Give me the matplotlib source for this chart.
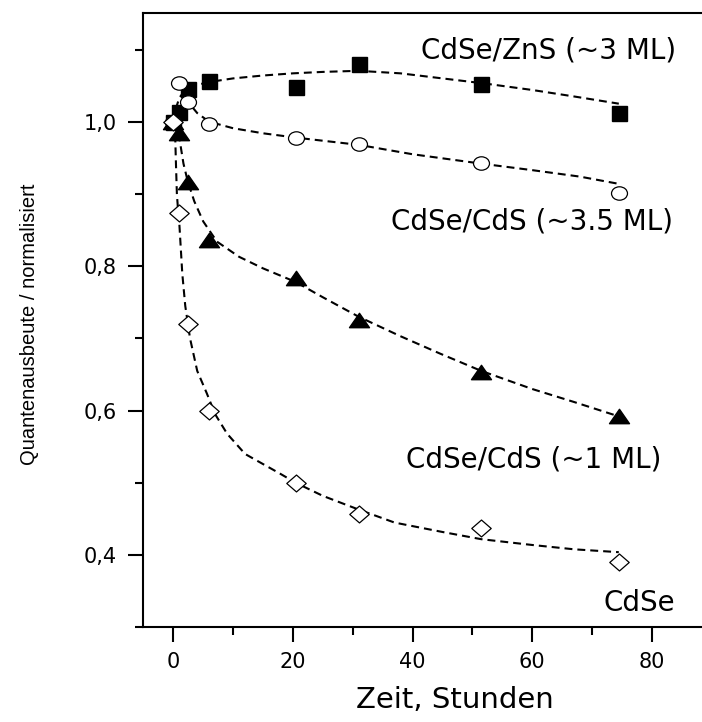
import matplotlib
matplotlib.use("Agg")
import matplotlib.pyplot as plt
from matplotlib.path import Path
from matplotlib.ticker import MultipleLocator, FuncFormatter
import numpy as np

plt.rcParams['font.family'] = ['Liberation Sans', 'DejaVu Sans']
WIDE = 'DejaVu Sans'

# ---- data ----
time_h = [0, 1, 2.5, 6, 20.5, 31, 51.5, 74.5]
qy_zns = [1.0, 1.014, 1.046, 1.057, 1.048, 1.080, 1.052, 1.012]
qy_cds35 = [1.0, 1.053, 1.028, 0.997, 0.978, 0.969, 0.943, 0.902]
qy_cds1 = [1.0, 0.985, 0.917, 0.836, 0.783, 0.726, 0.653, 0.593]
qy_cdse = [1.0, 0.873, 0.720, 0.600, 0.500, 0.457, 0.438, 0.390]

# dashed fit curves
fit_zns_t = [0, 0.5, 1, 2, 4, 6, 10, 15, 20, 25, 31, 38, 45, 52, 60, 67, 74.5]
fit_zns_y = [1.0, 1.02, 1.033, 1.044, 1.051, 1.055, 1.060, 1.064, 1.067, 1.069,
             1.0705, 1.067, 1.060, 1.053, 1.044, 1.035, 1.025]
fit_cds35_t = [1, 2.4, 4, 6, 10, 15, 20.5, 31, 40, 51.5, 60, 68, 74.5]
fit_cds35_y = [1.05, 1.028, 1.012, 1.0, 0.991, 0.984, 0.978, 0.968, 0.955,
               0.942, 0.933, 0.924, 0.914]
fit_cds1_t = [0, 0.5, 1, 1.7, 2.4, 3.5, 5, 7.3, 11, 15, 20.5, 25, 31, 38, 44.6,
              51.5, 60, 67, 74.5]
fit_cds1_y = [1.0, 0.992, 0.978, 0.942, 0.918, 0.89, 0.862, 0.834, 0.813, 0.797,
              0.778, 0.757, 0.730, 0.703, 0.679, 0.655, 0.63, 0.612, 0.592]
fit_cdse_t = [0, 0.3, 0.45, 0.6, 0.8, 1.0, 1.5, 2, 2.8, 4, 5.6, 7, 9, 12, 17.8,
              20.5, 25, 31, 37, 45, 51.5, 60, 67, 74.5]
fit_cdse_y = [1.0, 0.985, 0.94, 0.9, 0.877, 0.86, 0.79, 0.745, 0.70, 0.655,
              0.624, 0.595, 0.568, 0.54, 0.513, 0.50, 0.482, 0.463, 0.445,
              0.432, 0.422, 0.414, 0.408, 0.404]

labels = ["CdSe/ZnS (~3 ML)", "CdSe/CdS (~3.5 ML)", "CdSe/CdS (~1 ML)", "CdSe"]
x_ticks = [0, 20, 40, 60, 80]
y_ticks = [0.4, 0.6, 0.8, 1.0]

# ---- custom markers ----
def poly_marker(verts):
    verts = list(verts) + [verts[0]]
    codes = [Path.MOVETO] + [Path.LINETO] * (len(verts) - 2) + [Path.CLOSEPOLY]
    return Path(verts, codes)

circ = Path.unit_circle()
ellipse_marker = Path(circ.vertices * np.array([1.0, 0.84]), circ.codes)
tri_marker = poly_marker([(0, 0.72), (-1, -0.72), (1, -0.72)])
dia_marker = poly_marker([(1, 0), (0, 0.87), (-1, 0), (0, -0.87)])

fig = plt.figure(figsize=(7.02, 7.22), dpi=100)
ax = fig.add_axes([143.4 / 702, (722 - 627.3) / 722, (711.5 - 143.4) / 702, (627.3 - 13.4) / 722])

dash = (0, (3.8, 2.4))
lw = 1.5
for ft, fy in [(fit_zns_t, fit_zns_y), (fit_cds35_t, fit_cds35_y),
               (fit_cds1_t, fit_cds1_y), (fit_cdse_t, fit_cdse_y)]:
    ax.plot(ft, fy, color='black', lw=lw, linestyle=dash, zorder=2)

ax.plot(time_h, qy_zns, linestyle='none', marker='s', ms=10.8, mfc='black', mec='black', zorder=3)
ax.plot(time_h, qy_cds35, linestyle='none', marker=ellipse_marker, ms=11.5, mfc='white',
        mec='black', mew=0.9, zorder=3)
ax.plot(time_h, qy_cds1, linestyle='none', marker=tri_marker, ms=14.4, mfc='black',
        mec='black', zorder=3)
ax.plot(time_h, qy_cdse, linestyle='none', marker=dia_marker, ms=14.0, mfc='white',
        mec='black', mew=0.9, zorder=3)

ax.set_xlim(-5, 90)
ax.set_ylim(0.3, 1.15)
ax.set_xticks(x_ticks)
ax.set_yticks(y_ticks)
ax.xaxis.set_minor_locator(MultipleLocator(10))
ax.yaxis.set_minor_locator(MultipleLocator(0.1))
ax.yaxis.set_major_formatter(FuncFormatter(lambda v, p: f"{v:.1f}".replace('.', ',')))

for s in ['left', 'bottom', 'top']:
    ax.spines[s].set_linewidth(1.5)
ax.spines['right'].set_visible(False)

ax.tick_params(axis='both', which='major', direction='out', length=11, width=1.5,
               labelsize=15, labelfontfamily=WIDE, top=False, right=False)
ax.tick_params(axis='both', which='minor', direction='out', length=6, width=1.5,
               top=False, right=False)
ax.tick_params(axis='y', which='major', pad=8)
ax.tick_params(axis='x', which='major', pad=7)

ax.text(62.8, 1.099, labels[0], fontsize=20, family=WIDE, ha='center', va='center')
ax.text(60.0, 0.862, labels[1], fontsize=20, family=WIDE, ha='center', va='center')
ax.text(60.3, 0.533, labels[2], fontsize=20, family=WIDE, ha='center', va='center')
ax.text(78.0, 0.334, labels[3], fontsize=20, family=WIDE, ha='center', va='center')

fig.text(455 / 702, 1 - 700 / 722, "Zeit, Stunden", fontsize=21, family=WIDE,
         ha='center', va='center')
fig.text(30 / 702, 1 - 324 / 722, "Quantenausbeute / normalisiert", fontsize=14.5,
         ha='center', va='center', rotation=90)

fig.savefig("out.png", dpi=100)
